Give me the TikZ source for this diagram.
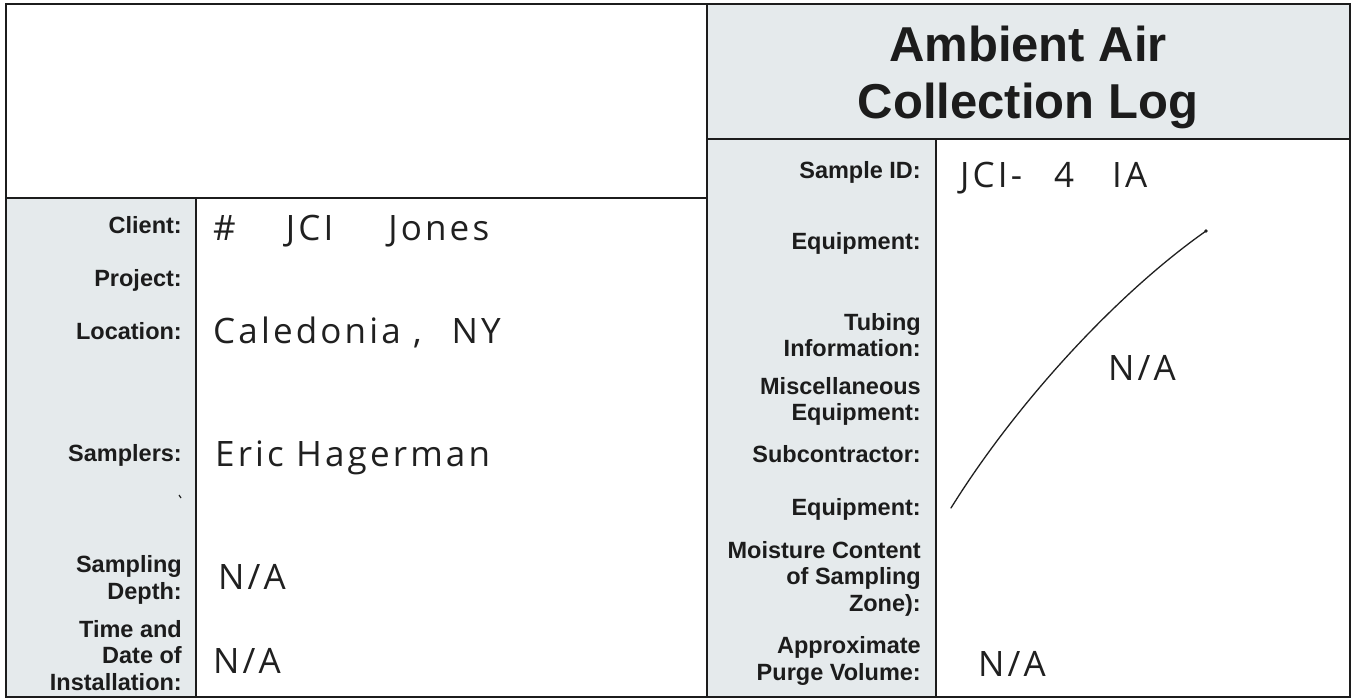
\documentclass[tikz,border=0pt]{standalone}
\usepackage{fontspec}
\setmainfont{Liberation Sans}
\newfontfamily\hand[LetterSpace=9]{Open Sans}
\definecolor{panel}{HTML}{E5EAEC}
\definecolor{ink}{HTML}{1C1C1C}
\definecolor{pen}{HTML}{202020}
\begin{document}
\begin{tikzpicture}[x=1pt,y=-1pt,
  lab/.style={anchor=base east, align=right, inner sep=0pt, text=ink,
    font=\bfseries\fontsize{23.5}{26.5}\selectfont},
  ttl/.style={anchor=base, inner sep=0pt, text=ink,
    font=\bfseries\fontsize{49}{56}\selectfont},
  hw/.style={anchor=base west, inner sep=0pt, text=pen,
    font=\hand\fontsize{35}{38}\selectfont},
  rule/.style={line width=2.4pt, draw=ink},
  thinrule/.style={line width=1.8pt, draw=ink},
  penline/.style={line width=1.3pt, draw=pen, line cap=round}
]
\useasboundingbox (0,0) rectangle (1353,700);
\fill[white] (0,0) rectangle (1353,700);
% shaded areas
\fill[panel] (707,4) rectangle (1350,139);
\fill[panel] (6,198) rectangle (196,697);
\fill[panel] (707,139) rectangle (936,697);
% grid
\draw[thinrule] (196,198) -- (196,697);
\draw[thinrule] (936,139) -- (936,697);
\draw[rule] (6,198) -- (707,198);
\draw[rule] (707,139) -- (1350,139);
\draw[rule] (707,4) -- (707,697);
\draw[rule] (6,4) rectangle (1350,697);

% title
\node[ttl] (t1) at (1028,62) {Ambient Air};
\node[ttl] (t2) at (1028,119) {Collection Log};

% left labels (anchor = baseline of last line)
\node[lab] (client) at (182,234) {Client:};
\node[lab] (project) at (182,287) {Project:};
\node[lab] (location) at (182,340) {Location:};
\node[lab] (samplers) at (182,462) {Samplers:};
\node[lab] (depth) at (182,599) {Sampling\\Depth:};
\node[lab] (install) at (182,690) {Time and\\Date of\\Installation:};
\draw[line width=1.2pt, draw=ink] (179,495) -- (181,498);

% right labels
\node[lab] (sid) at (921,179) {Sample ID:};
\node[lab] (equip1) at (921,250) {Equipment:};
\node[lab] (tubing) at (921,357) {Tubing\\Information:};
\node[lab] (misc) at (921,421) {Miscellaneous\\Equipment:};
\node[lab] (subc) at (921,463) {Subcontractor:};
\node[lab] (equip2) at (921,515) {Equipment:};
\node[lab] (moist) at (921,611) {Moisture Content\\of Sampling\\Zone):};
\node[lab] (purge) at (921,680) {Approximate\\Purge Volume:};

% handwritten entries
\node[hw] (vclient) at (213,241) {\#\hspace{50pt}JCI\hspace{55pt}Jones};
\node[hw] (vloc) at (213,344) {Caledonia ,\hspace{30pt}NY};
\node[hw] (vsamp) at (215,467) {Eric Hagerman};
\node[hw] (vdepth) at (218,589) {N/A};
\node[hw] (vinst) at (213,673) {N/A};
\node[hw] (vsid) at (960,188) {JCI-\hspace{32pt}4\hspace{38pt}IA};
\node[hw] (vna) at (1108,381) {N/A};
\node[hw] (vpurge) at (978,676) {N/A};

% strike-through line across equipment block
\coordinate (s0) at (951,508);
\coordinate (s1) at (1206,231);
\draw[penline] (s0) .. controls (1015,405) and (1115,295) .. (s1);
\fill[pen] (s1) circle (1.8pt);
\end{tikzpicture}
\end{document}
